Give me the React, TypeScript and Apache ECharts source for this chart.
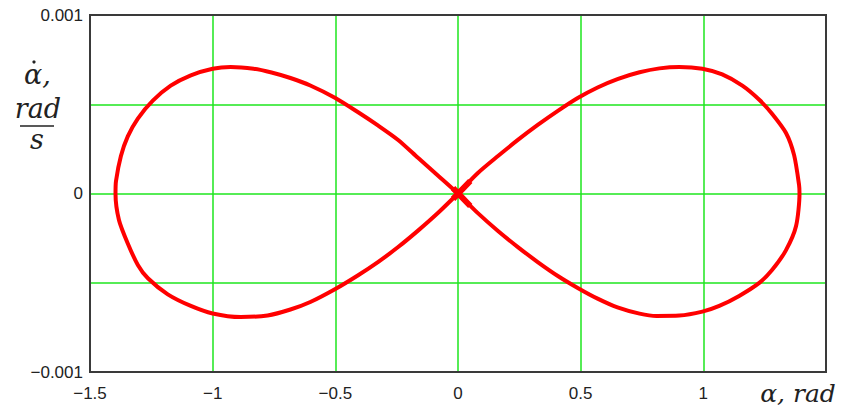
import React, { useEffect, useRef } from "react";
import * as echarts from "echarts";

// Phase portrait: angle (rad) vs angular rate (values in units of 1e-3 rad/s)
const angleRight: number[] = [
  0, 0.081, 0.163, 0.244, 0.325, 0.407, 0.488, 0.569, 0.65, 0.74, 0.821, 0.902, 0.996, 1.077, 1.159, 1.228,
  1.28, 1.337, 1.37, 1.39, 1.392, 1.378, 1.337, 1.28, 1.228, 1.146, 1.065, 0.996, 0.902, 0.809, 0.74, 0.65,
  0.569, 0.488, 0.407, 0.325, 0.244, 0.163, 0.081, 0,
];
const rateRightMilli: number[] = [
  0, 0.115, 0.21, 0.3, 0.384, 0.463, 0.535, 0.594, 0.641, 0.679, 0.701, 0.709, 0.699, 0.667, 0.604, 0.525,
  0.447, 0.339, 0.215, 0.05, 0, -0.182, -0.317, -0.429, -0.501, -0.574, -0.63, -0.662, -0.684, -0.686, -0.673,
  -0.638, -0.589, -0.529, -0.462, -0.384, -0.3, -0.21, -0.11, 0,
];
const angleLeft: number[] = [
  0, -0.081, -0.163, -0.244, -0.325, -0.407, -0.5, -0.602, -0.683, -0.76, -0.833, -0.927, -1.0, -1.089, -1.171,
  -1.244, -1.305, -1.346, -1.374, -1.394, -1.396, -1.382, -1.346, -1.305, -1.264, -1.183, -1.089, -1.0, -0.886,
  -0.776, -0.683, -0.602, -0.5, -0.407, -0.325, -0.244, -0.163, -0.081, 0,
];
const rateLeftMilli: number[] = [
  0, 0.1, 0.2, 0.3, 0.38, 0.455, 0.535, 0.605, 0.647, 0.678, 0.699, 0.709, 0.699, 0.662, 0.604, 0.52, 0.42,
  0.32, 0.21, 0.07, 0, -0.148, -0.28, -0.4, -0.475, -0.565, -0.63, -0.672, -0.692, -0.683, -0.65, -0.608,
  -0.535, -0.458, -0.383, -0.3, -0.208, -0.108, 0,
];
// Repeated passes near the saddle point thicken the trace there
const crossAngle: (number | null)[] = [-0.02, 0.05, null, -0.02, 0.05];
const crossRateMilli: (number | null)[] = [-0.03, 0.07, null, 0.03, -0.07];

const angleTicks = [-1.5, -1, -0.5, 0, 0.5, 1];
const rateTicks = [-0.001, 0, 0.001];

const toPoints = (xs: (number | null)[], ys: (number | null)[]) =>
  xs.map((x, i) => (x === null || ys[i] === null ? [null, null] : [x, (ys[i] as number) * 1e-3]));

const fmtNum = (v: number) => {
  if (Math.abs(v) < 1e-12) return "0";
  const s = String(Math.round(v * 1e6) / 1e6);
  return s.replace("-", "\u2212");
};

export default function App() {
  const ref = useRef<HTMLDivElement>(null);
  useEffect(() => {
    if (!ref.current) return;
    const chart = echarts.init(ref.current, undefined, { renderer: "svg" });
    const labelFont = "'Liberation Sans', Arial, sans-serif";
    const mathFont = "'DejaVu Serif', 'Liberation Serif', serif";
    const grid = "#1ee61e";
    const loop = [...toPoints(angleRight, rateRightMilli), ...toPoints(angleLeft, rateLeftMilli)];
    chart.setOption({
      animation: false,
      backgroundColor: "#ffffff",
      grid: { left: 90, top: 15, width: 736, height: 357 },
      xAxis: {
        type: "value",
        min: -1.5,
        max: 1.5,
        interval: 0.5,
        axisLine: { show: false },
        axisTick: { show: false },
        splitLine: { show: true, lineStyle: { color: grid, width: 1.5 } },
        axisLabel: {
          color: "#222",
          fontFamily: labelFont,
          fontSize: 17,
          margin: 13,
          formatter: (v: number) =>
            angleTicks.some((t) => Math.abs(t - v) < 1e-9) ? fmtNum(v) : "",
        },
      },
      yAxis: {
        type: "value",
        min: -0.001,
        max: 0.001,
        interval: 0.0005,
        axisLine: { show: false },
        axisTick: { show: false },
        splitLine: { show: true, lineStyle: { color: grid, width: 1.5 } },
        axisLabel: {
          color: "#222",
          fontFamily: labelFont,
          fontSize: 17,
          margin: 7,
          formatter: (v: number) =>
            rateTicks.some((t) => Math.abs(t - v) < 1e-9) ? fmtNum(v) : "",
        },
      },
      series: [
        {
          type: "line",
          data: loop,
          showSymbol: false,
          smooth: 0.25,
          lineStyle: { color: "#ff0000", width: 4 },
          z: 3,
        },
        {
          type: "line",
          data: toPoints(crossAngle, crossRateMilli),
          showSymbol: false,
          connectNulls: false,
          lineStyle: { color: "#ff0000", width: 6 },
          z: 3,
        },
      ],
      graphic: [
        {
          type: "rect",
          shape: { x: 90, y: 15, width: 736, height: 357 },
          style: { fill: "none", stroke: "#3a3a3a", lineWidth: 2 },
          z: 100,
        },
        {
          type: "text",
          x: 24,
          y: 74,
          style: { text: "\u03b1,", font: `italic 27px ${mathFont}`, fill: "#222", verticalAlign: "middle" },
        },
        { type: "circle", shape: { cx: 34, cy: 62, r: 1.6 }, style: { fill: "#222" } },
        {
          type: "text",
          x: 38,
          y: 108,
          style: {
            text: "rad",
            font: `italic 27px ${mathFont}`,
            fill: "#222",
            align: "center",
            verticalAlign: "middle",
          },
        },
        { type: "line", shape: { x1: 20, y1: 126, x2: 54, y2: 126 }, style: { stroke: "#222", lineWidth: 1.5 } },
        {
          type: "text",
          x: 37,
          y: 139,
          style: {
            text: "s",
            font: `italic 27px ${mathFont}`,
            fill: "#222",
            align: "center",
            verticalAlign: "middle",
          },
        },
        {
          type: "text",
          x: 798,
          y: 393,
          style: {
            text: "\u03b1, rad",
            font: `italic 25px ${mathFont}`,
            fill: "#222",
            align: "center",
            verticalAlign: "middle",
          },
        },
      ],
    });
    return () => chart.dispose();
  }, []);
  return <div ref={ref} style={{ width: 846, height: 407, marginLeft: -8, marginTop: -8 }} />;
}
